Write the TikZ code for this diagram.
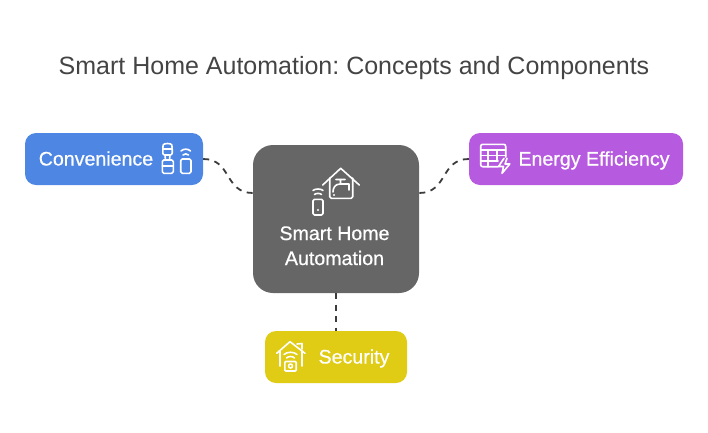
\documentclass[tikz,border=0pt]{standalone}
\usepackage{fontspec}
\setmainfont{Liberation Sans}
\newfontfamily\labfont[FakeBold=0.6]{Liberation Sans}
\usetikzlibrary{calc}
\definecolor{hubgrey}{HTML}{666666}
\definecolor{convblue}{HTML}{4E86E4}
\definecolor{energypurple}{HTML}{B65AE0}
\definecolor{secyellow}{HTML}{E0CB15}
\definecolor{titlegrey}{HTML}{444444}
\definecolor{linkgrey}{HTML}{3C3C3C}
\tikzset{
    box/.style={rounded corners=11pt,minimum height=52pt,inner sep=0pt,text=white},
    lab/.style={text=white,inner sep=0pt,anchor=base,font=\labfont\fontsize{19.6}{25}\selectfont},
    link/.style={draw=linkgrey,line width=1.8pt,dash pattern=on 6pt off 5.5pt},
    icon/.style={draw=white,line width=1.6pt,line cap=round,line join=round}
}
\begin{document}
\frenchspacing
\begin{tikzpicture}[x=1pt,y=-1pt]
    \useasboundingbox (0,0) rectangle (708,432);
    \node[text=titlegrey,inner sep=0pt,anchor=base,font=\fontsize{25}{30}\selectfont] (title) at (354,74.5) {Smart Home Automation: Concepts and Components};

    \node[box,fill=hubgrey,rounded corners=20pt,minimum width=166pt,minimum height=148pt] (hub) at (336,219) {};
    \node[box,fill=convblue,minimum width=178pt] (conv) at (114,159) {};
    \node[box,fill=energypurple,minimum width=214pt] (energy) at (576,159) {};
    \node[box,fill=secyellow,minimum width=142pt] (sec) at (336,357) {};

    \node[lab] (hublab) at (334.5,240) {Smart Home};
    \node[lab] (hublabb) at (334.5,265) {Automation};
    \node[lab] (convlab) at (96,165.5) {Convenience};
    \node[lab] (energylab) at (594,165.5) {Energy Efficiency};
    \node[lab] (seclab) at (354,363.5) {Security};

    \coordinate (hubleft) at (253,193);
    \coordinate (hubright) at (419,193);
    \draw[link] (conv.east) .. controls (232,159) and (224,193) .. (hubleft);
    \draw[link] (energy.west) .. controls (440,159) and (448,193) .. (hubright);
    \draw[link] (hub.south) -- (sec.north);

    % hub icon
    \draw[icon] (322.7,185) -- (340.7,168.3) -- (359.3,185);
    \draw[icon,rounded corners=1.5pt] (329.7,178) -- (329.7,198.3) -- (352.7,198.3) -- (352.7,178);
    \draw[icon] (336,179.5) -- (345,179.5) (340.5,179.5) -- (340.5,184) (349,190) -- (349,184) -- (340,184) .. controls (335,184) and (333,188) .. (333,192);
    \fill[white] (334,195) circle (1.1pt);
    \draw[icon,rounded corners=1.5pt] (313,199.3) rectangle (323,215);
    \fill[white] (318,210) circle (1.2pt);
    \draw[icon] (314.5,194.5) .. controls (316,193) and (320,193) .. (321.5,194.5);
    \draw[icon] (313,190.5) .. controls (315,188.5) and (321,188.5) .. (323,190.5);

    % convenience icon
    \draw[icon,rounded corners=2pt] (162.8,155) -- (162.8,147) .. controls (163.5,143) and (171.5,143) .. (172.2,147) -- (172.2,155) -- cycle;
    \draw[icon] (165,155) -- (165.5,160) (170,155) -- (169.5,160);
    \draw[icon,rounded corners=1.5pt] (162.3,160) rectangle (173.3,173.3);
    \draw[icon] (162.3,166) -- (173.3,166) (162.8,149) -- (172.2,149);
    \draw[icon,rounded corners=1.5pt] (180.7,159) rectangle (191,173.3);
    \draw[icon] (183,155) .. controls (184.5,153.5) and (187,153.5) .. (188.5,155);
    \draw[icon] (181,151) .. controls (183.5,148.5) and (188,148.5) .. (190.5,151);

    % energy icon
    \draw[icon,rounded corners=2pt] (498,166.7) -- (480.7,166.7) -- (480.7,144.3) -- (505.7,144.3) -- (505.7,157);
    \draw[icon] (480.7,150) -- (505.7,150) (480.7,155.5) -- (505.7,155.5) (480.7,161) -- (498,161);
    \draw[icon] (488,150) -- (488,166.7) (497,150) -- (497,161);
    \draw[icon] (504,158.3) -- (498.5,166.5) -- (503.5,166.5) -- (502,173.3) -- (509.8,164) -- (505,164) -- (507,158.3);

    % security icon
    \draw[icon] (276.7,353.3) -- (290,341.7) -- (305,353.3);
    \draw[icon] (297,344) -- (302,343.5) -- (302,349);
    \draw[icon] (279.8,351) -- (279.8,366) (301.7,351) -- (301.7,366);
    \draw[icon] (284,354.5) .. controls (287,351.5) and (294,351.5) .. (297,354.5);
    \draw[icon] (286.5,358) .. controls (288.5,356) and (292.5,356) .. (294.5,358);
    \draw[icon,rounded corners=1pt] (284.8,361.5) rectangle (296.2,371);
    \draw[icon] (290.5,366) circle (2pt);
\end{tikzpicture}
\end{document}
